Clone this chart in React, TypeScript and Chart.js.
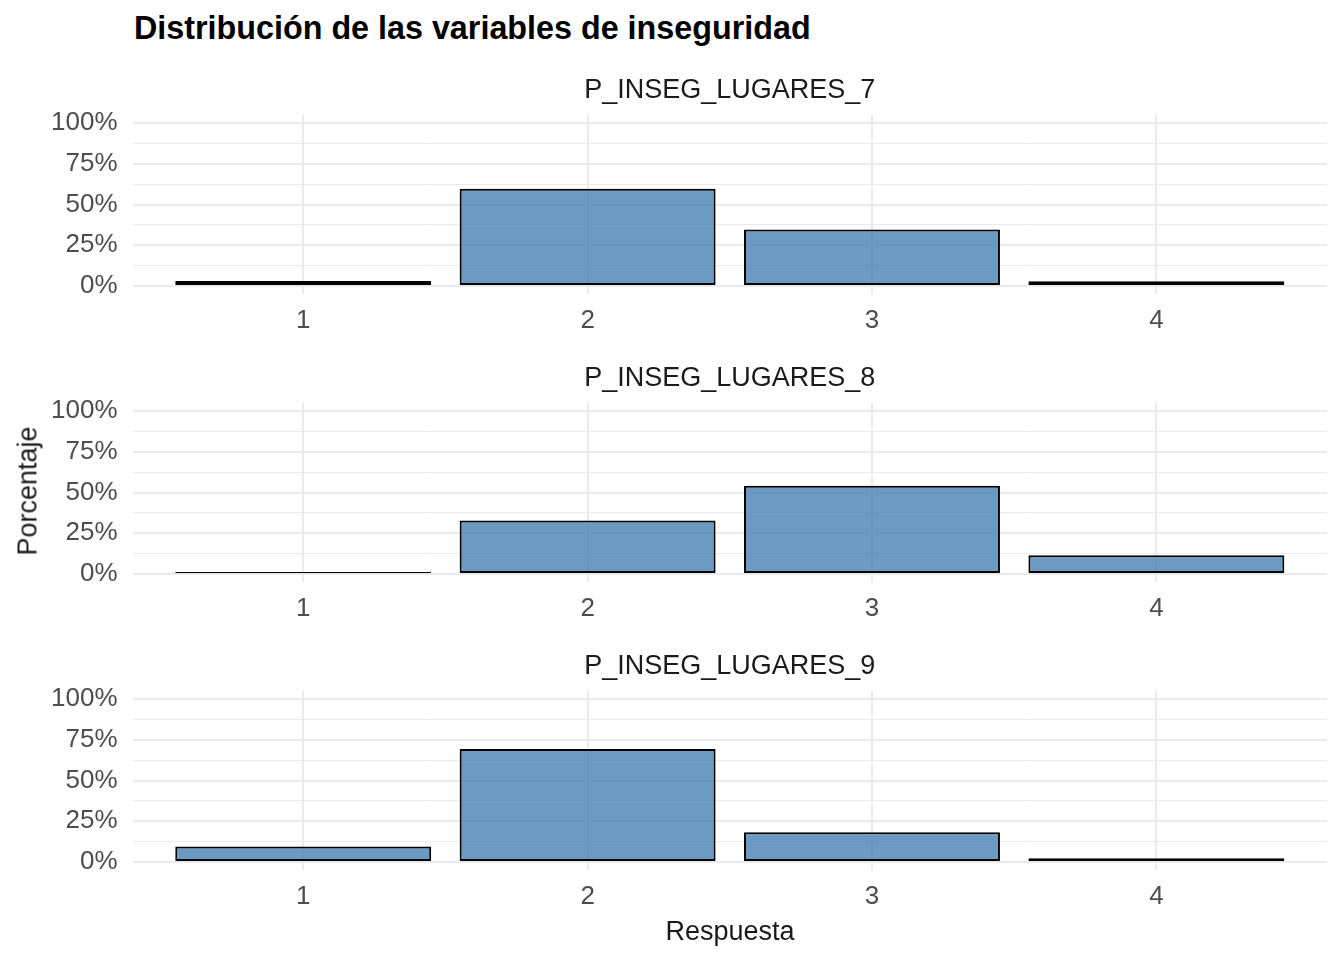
import React, { useEffect, useRef } from 'react';
import { Chart, registerables } from 'chart.js';

Chart.register(...registerables);

const chartTitle = 'Distribución de las variables de inseguridad';
const xAxisTitle = 'Respuesta';
const yAxisTitle = 'Porcentaje';
const categories = ['1', '2', '3', '4'];
const panelNames = ['P_INSEG_LUGARES_7', 'P_INSEG_LUGARES_8', 'P_INSEG_LUGARES_9'];
const lugares7 = [3.1, 59.7, 34.7, 3.0];
const lugares8 = [1.2, 32.8, 54.2, 11.5];
const lugares9 = [9.6, 69.3, 18.2, 2.3];
const panelValues = [lugares7, lugares8, lugares9];
const yTicks = [0, 12.5, 25, 37.5, 50, 62.5, 75, 87.5, 100];
const yMajor = [0, 25, 50, 75, 100];

const FONT = "'Liberation Sans', Arial, sans-serif";

function Panel({ name, values, top }: { name: string; values: number[]; top: number }) {
  const ref = useRef<HTMLCanvasElement | null>(null);
  useEffect(() => {
    if (!ref.current) return;
    const chart = new Chart(ref.current, {
      type: 'bar',
      data: {
        datasets: [
          {
            data: values.map((v, i) => ({ x: i + 1, y: v })),
            backgroundColor: 'rgba(70,130,180,0.8)',
            borderColor: '#000000',
            borderWidth: 2,
            inflateAmount: 0,
            borderSkipped: false,
            categoryPercentage: 1,
            barPercentage: 0.9,
          },
        ],
      },
      options: {
        animation: false,
        responsive: false,
        devicePixelRatio: 1,
        layout: { padding: 0 },
        plugins: {
          legend: { display: false },
          tooltip: { enabled: false },
          title: {
            display: true,
            fullSize: false,
            text: name,
            color: '#1a1a1a',
            font: { family: FONT, size: 27, weight: 'normal', lineHeight: 1.2 },
            padding: { top: 0, bottom: 8.4 },
          },
        },
        scales: {
          x: {
            type: 'linear',
            min: 0.4,
            max: 4.6,
            offset: false,
            afterBuildTicks: (s: any) => {
              s.ticks = categories.map((_, i) => ({ value: i + 1 }));
            },
            afterFit: (s: any) => {
              s.height = 49.8;
            },
            ticks: {
              autoSkip: false,
              maxRotation: 0,
              padding: 11,
              color: '#4d4d4d',
              font: { family: FONT, size: 26 },
              callback: (v: any) => categories[Math.round(Number(v)) - 1] ?? '',
            },
            grid: { color: '#ebebeb', lineWidth: 2, drawTicks: false, offset: false },
            border: { display: false },
          },
          y: {
            type: 'linear',
            min: -5,
            max: 105,
            afterBuildTicks: (s: any) => {
              s.ticks = yTicks.map((v) => ({ value: v }));
            },
            afterFit: (s: any) => {
              s.width = 132.6;
            },
            ticks: {
              autoSkip: false,
              padding: 15,
              color: '#4d4d4d',
              font: { family: FONT, size: 26 },
              callback: (v: any) => (yMajor.includes(Number(v)) ? `${v}%` : ''),
            },
            grid: {
              color: '#ebebeb',
              drawTicks: false,
              lineWidth: (ctx: any) => (ctx.tick && yMajor.includes(ctx.tick.value) ? 2 : 1),
            },
            border: { display: false },
          },
        },
      },
    } as any);
    return () => chart.destroy();
  }, [name, values]);
  return (
    <canvas
      ref={ref}
      width={1327}
      height={270}
      style={{ position: 'absolute', left: 0, top, width: 1327, height: 270 }}
    />
  );
}

export default function App() {
  return (
    <div
      style={{
        position: 'absolute',
        left: 0,
        top: 0,
        width: 1344,
        height: 960,
        background: '#ffffff',
        fontFamily: FONT,
        overflow: 'hidden',
      }}
    >
      <div
        style={{
          position: 'absolute',
          left: 134,
          top: 12,
          fontSize: 32.3,
          lineHeight: '32px',
          fontWeight: 'bold',
          color: '#000000',
          whiteSpace: 'nowrap',
        }}
      >
        {chartTitle}
      </div>
      {panelNames.map((n, i) => (
        <Panel key={n} name={n} values={panelValues[i]} top={74 + 288 * i} />
      ))}
      <div
        style={{
          position: 'absolute',
          left: 28,
          top: 491,
          fontSize: 27,
          lineHeight: '27px',
          color: '#1a1a1a',
          whiteSpace: 'nowrap',
          transform: 'translate(-50%, -50%) rotate(-90deg)',
        }}
      >
        {yAxisTitle}
      </div>
      <div
        style={{
          position: 'absolute',
          left: 730,
          top: 931,
          fontSize: 27,
          lineHeight: '27px',
          color: '#1a1a1a',
          whiteSpace: 'nowrap',
          transform: 'translate(-50%, -50%)',
        }}
      >
        {xAxisTitle}
      </div>
    </div>
  );
}
